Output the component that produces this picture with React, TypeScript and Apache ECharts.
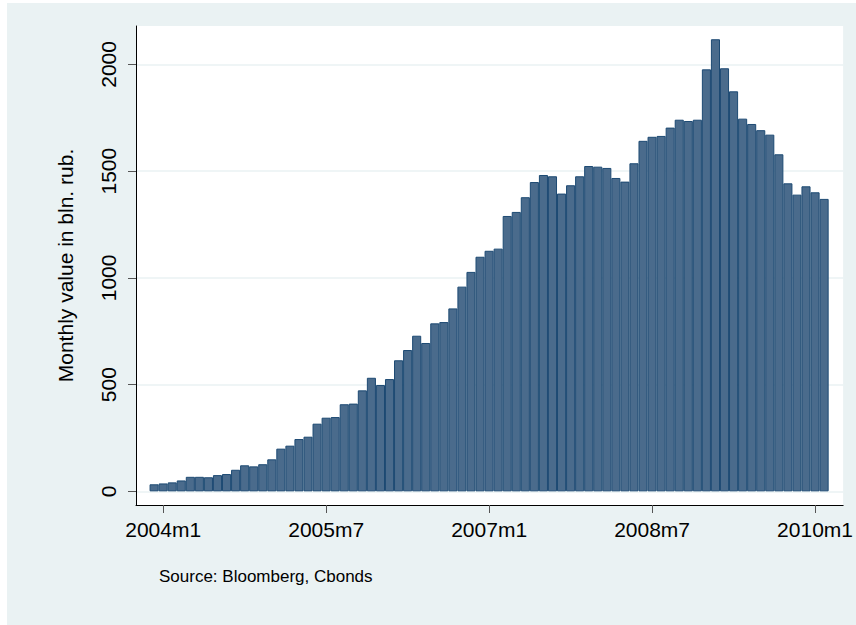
import { useEffect, useRef } from 'react';
import * as echarts from 'echarts';

// Monthly values in bln. rub., starting from 2003m12
const startYear = 2003;
const startMonth = 12;
const values = [
  33, 37, 42, 51, 68, 68, 66, 76, 81, 101,
  122, 117, 127, 150, 200, 214, 245, 256, 317, 345,
  348, 408, 411, 473, 532, 498, 526, 614, 662, 729,
  695, 787, 793, 857, 959, 1028, 1099, 1127, 1137, 1290,
  1309, 1378, 1449, 1482, 1476, 1395, 1434, 1476, 1524, 1521,
  1515, 1468, 1451, 1537, 1642, 1661, 1665, 1704, 1741, 1735,
  1741, 1977, 2118, 1982, 1874, 1746, 1721, 1692, 1671, 1579,
  1443, 1390, 1429, 1401, 1370,
];

// Stata-style month labels: 2004m1, 2004m2, ...
const months = values.map((_, i) => {
  const m0 = startMonth - 1 + i;
  return `${startYear + Math.floor(m0 / 12)}m${(m0 % 12) + 1}`;
});

const xTickLabels = ['2004m1', '2005m7', '2007m1', '2008m7', '2010m1'];
const yTicks = [0, 500, 1000, 1500, 2000];

const FONT = '"Liberation Sans", Arial, Helvetica, sans-serif';

export default function App() {
  const ref = useRef<HTMLDivElement>(null);

  useEffect(() => {
    if (!ref.current) return;
    const chart = echarts.init(ref.current, null, { renderer: 'svg' });
    const xTicks = xTickLabels.map((l) => months.indexOf(l));

    chart.setOption({
      animation: false,
      backgroundColor: '#eaf2f3',
      grid: {
        left: 129,
        top: 23,
        right: 11,
        bottom: 120,
        show: true,
        backgroundColor: '#ffffff',
        borderWidth: 0,
      },
      xAxis: {
        type: 'value',
        min: -2,
        max: 76.1,
        axisLine: { show: true, onZero: false, lineStyle: { color: '#000', width: 1 } },
        axisTick: { show: true, length: 8, customValues: xTicks, lineStyle: { color: '#555', width: 1 } },
        axisLabel: {
          customValues: xTicks,
          formatter: (v: number) => months[Math.round(v)],
          fontSize: 21,
          color: '#000',
          fontFamily: FONT,
          margin: 14,
        },
        splitLine: { show: false },
      },
      yAxis: {
        type: 'value',
        min: -64,
        max: 2180,
        name: 'Monthly value in bln. rub.',
        nameLocation: 'middle',
        nameGap: 60,
        nameRotate: 90,
        nameTextStyle: { fontSize: 21, color: '#000', fontFamily: FONT },
        axisLine: { show: true, onZero: false, lineStyle: { color: '#000', width: 1 } },
        axisTick: { show: true, length: 8, customValues: yTicks, lineStyle: { color: '#555', width: 1 } },
        axisLabel: {
          customValues: yTicks,
          formatter: (v: number) => String(v),
          rotate: 90,
          fontSize: 21,
          color: '#000',
          fontFamily: FONT,
          margin: 17,
        },
        splitLine: { show: true, lineStyle: { color: '#eaf2f3', width: 1.5 } },
      },
      graphic: [
        {
          type: 'text',
          x: 152,
          y: 573,
          style: {
            text: 'Source: Bloomberg, Cbonds',
            fontSize: 17,
            fontFamily: FONT,
            fill: '#000',
            verticalAlign: 'middle',
          },
        },
      ],
      series: [
        {
          type: 'bar',
          data: values.map((v, i) => [i, v]),
          barWidth: 9.08,
          itemStyle: { color: '#4a6b8c', borderColor: '#1d4a73', borderWidth: 1 },
        },
      ],
    });

    return () => chart.dispose();
  }, []);

  return (
    <div
      ref={ref}
      style={{ position: 'absolute', left: 7, top: 3, width: 849, height: 622 }}
    />
  );
}
